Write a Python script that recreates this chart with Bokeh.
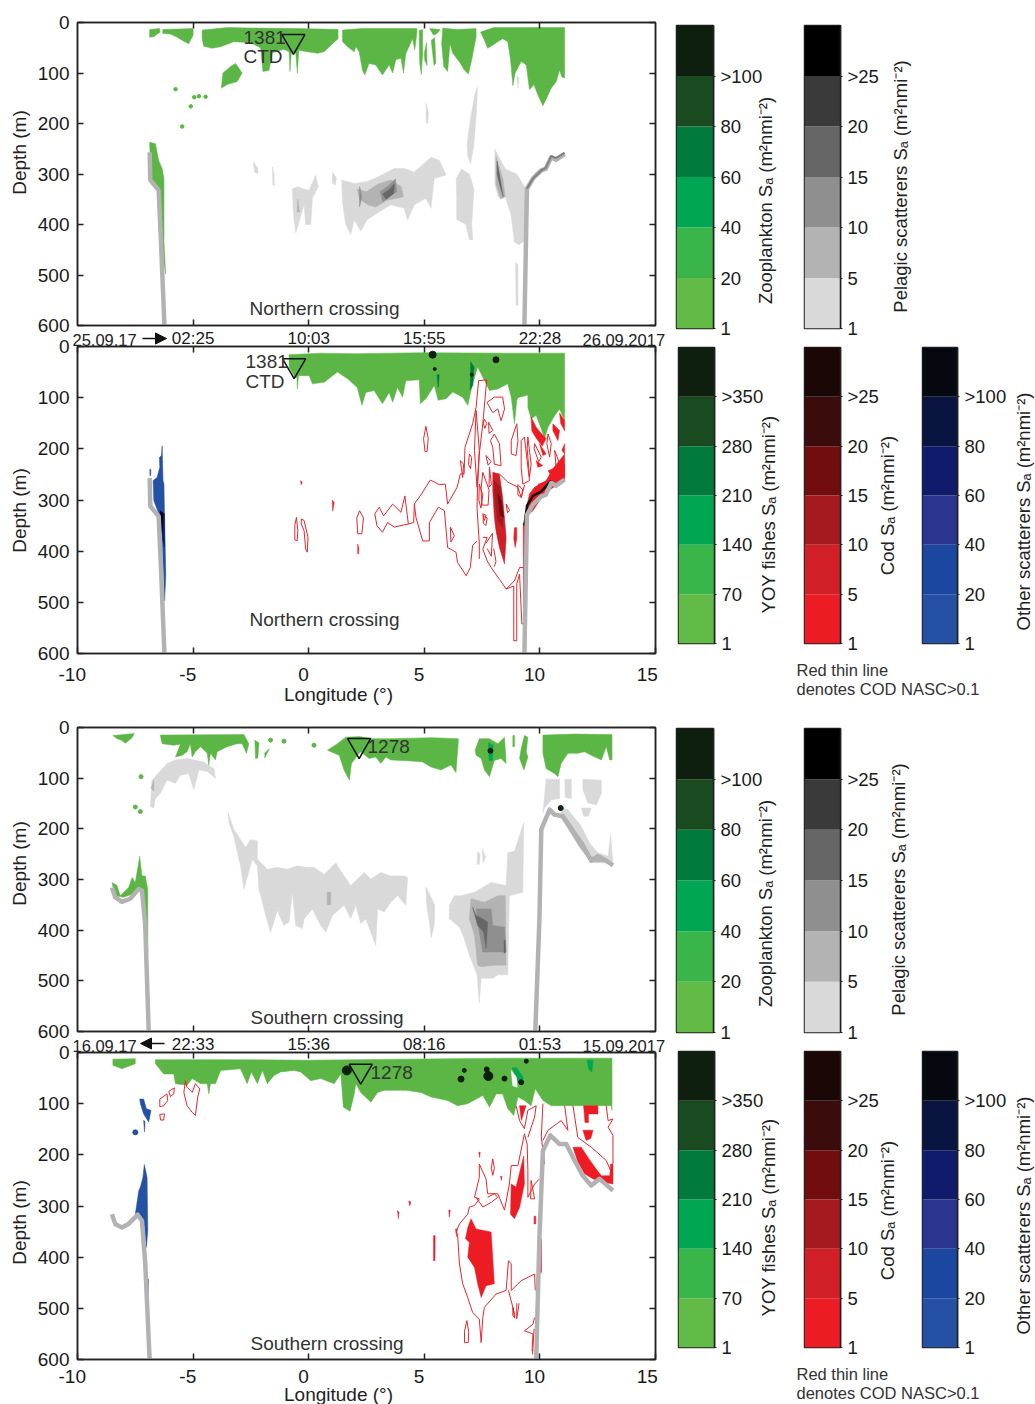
from math import pi
from bokeh.embed import file_html
from bokeh.layouts import column, row
from bokeh.models import Arrow, FixedTicker, Label, LinearAxis, NormalHead, Range1d
from bokeh.plotting import figure
from bokeh.resources import INLINE

FONT = "Liberation Sans"
GREENS = ["#62bb46", "#39b54a", "#00a651", "#007a3d", "#1a4a20", "#0e1f10"]
GRAYS = ["#d9d9d9", "#b3b3b3", "#8f8f8f", "#666666", "#3a3a3a", "#000000"]
REDS = ["#ed1c24", "#d01f27", "#a41a20", "#720d0e", "#3a0d0c", "#1c0707"]
BLUES = ["#2451a4", "#1c47a1", "#2a3590", "#101b6b", "#0a1440", "#05080f"]
ZOO_TICKS = ["1", "20", "40", "60", "80", ">100"]
PEL_TICKS = ["1", "5", "10", "15", "20", ">25"]
YOY_TICKS = ["1", "70", "140", "210", "280", ">350"]
COD_TICKS = ["1", "5", "10", "15", "20", ">25"]
OTH_TICKS = ["1", "20", "40", "60", "80", ">100"]
UNIT = " S\u2090 (m\u00b2nmi\u207b\u00b2)"
DEPTH_TICKS = [0, 100, 200, 300, 400, 500, 600]
LON_TICKS = [-10, -5, 0, 5, 10, 15]
N_TIMES = {-5: "02:25", 0: "10:03", 5: "15:55", 10: "22:28"}
S_TIMES = {-5: "22:33", 0: "15:36", 5: "08:16", 10: "01:53"}

# ---- Northern crossing: seabed
N_BATHY = [[(-6.88, 257), (-6.85, 312), (-6.49, 332), (-6.39, 433), (-6.24, 600)],
           [(9.33, 600), (9.44, 329), (9.7, 309), (9.85, 302), (10.06, 293), (10.25, 290), (10.49, 267), (10.7, 272), (11.07, 260)]]
# ---- panel 1 zooplankton
P1_ZOO = [
    [(-6.88, 29), (-6.7, 28), (-6.55, 23), (-6.44, 20), (-6.44, 12), (-6.88, 14)],
    [(-6.31, 22), (-5.98, 23), (-5.69, 29), (-5.37, 38), (-5.19, 42), (-5.0, 25), (-5.0, 12), (-6.31, 14)],
    [(-4.61, 32), (-4.54, 47), (-4.18, 51), (-3.81, 48), (-3.24, 38), (-2.51, 40), (-2.08, 50), (-1.98, 97), (-1.72, 95), (-1.57, 60),
     (-1.07, 53), (-.85, 58), (-.81, 97), (-.75, 58), (-.56, 60), (-.49, 100), (-.43, 55), (-.06, 58), (.38, 61), (.67, 58), (1.03, 42), (1.27, 32),
     (1.27, 14), (.6, 13), (-.5, 12), (-2.5, 11), (-3.5, 10), (-4.61, 15)],
    [(-3.78, 130), (-3.71, 100), (-3.38, 87), (-3.16, 81), (-2.88, 100), (-3.09, 117), (-3.53, 123)],
    [(1.46, 38), (1.68, 48), (1.97, 58), (2.04, 48), (2.18, 58), (2.33, 95), (2.43, 104), (2.61, 81), (2.9, 84), (3.19, 104), (3.48, 84), (3.63, 100),
     (3.77, 74), (3.99, 71), (4.1, 100), (4.2, 62), (4.49, 32), (4.59, 54), (4.68, 20), (4.68, 12), (3.5, 12), (2.3, 12), (1.46, 15)],
    [(4.78, 16), (4.93, 14), (4.93, 60), (4.87, 103), (4.8, 80)],
    [(5.0, 60), (5.1, 40), (5.12, 85), (5.02, 75)],
    [(5.23, 12), (5.69, 14), (5.55, 22), (5.4, 25)],
    [(5.3, 35), (5.45, 30), (5.5, 80), (5.42, 85)],
    [(5.75, 42), (5.84, 87), (6.01, 97), (6.11, 42), (6.23, 61), (6.52, 78), (6.73, 94), (6.91, 102), (7.05, 74), (7.24, 29), (7.24, 12), (6.4, 14), (5.8, 11)],
    [(7.43, 19), (7.6, 35), (7.74, 51), (7.96, 45), (8.18, 38), (8.39, 32), (8.61, 38), (8.73, 74), (8.83, 125), (8.93, 100), (9.19, 77), (9.41, 84),
     (9.55, 133), (9.74, 123), (9.91, 143), (10.13, 165), (10.27, 152), (10.49, 130), (10.71, 117), (10.85, 94), (10.95, 108), (11.07, 110), (11.07, 10), (8.0, 10)],
    [(-6.88, 237), (-6.63, 240), (-6.49, 273), (-6.34, 289), (-6.26, 309), (-6.26, 433), (-6.19, 498), (-6.27, 472), (-6.42, 342), (-6.56, 322), (-6.82, 309)],
]
P1_DOT_LON = [-5.76, -4.75, -4.46, -5.1, -5.47, -4.95]
P1_DOT_DEPTH = [132, 146, 147, 166, 206, 148]
P1_GRAY1 = [
    [(-.71, 329), (-.46, 325), (-.27, 329), (.02, 332), (.3, 302), (.41, 325), (.16, 348), (.09, 400), (-.13, 400), (-.2, 361), (-.35, 384), (-.56, 417), (-.66, 381)],
    [(1.43, 312), (1.97, 319), (2.54, 315), (2.98, 306), (3.7, 289), (4.13, 289), (4.57, 296), (5.29, 267), (5.65, 273), (5.94, 302), (5.43, 309), (5.29, 368),
     (5.07, 348), (4.57, 361), (4.28, 391), (4.13, 368), (3.55, 361), (2.98, 377), (2.54, 390), (2.25, 413), (1.97, 391), (1.82, 420), (1.6, 400), (1.46, 355)],
    [(-2.4, 276), (-2.2, 289), (-2.2, 300), (-2.34, 296)],
    [(-1.57, 286), (-1.5, 300), (-1.48, 322), (-1.55, 322)],
    [(1.03, 296), (1.2, 308), (1.15, 322), (1.03, 318)],
    [(5.08, 160), (5.18, 180), (5.15, 200), (5.08, 198)],
    [(7.3, 127), (7.26, 175), (7.15, 240), (7.0, 280), (6.88, 265), (6.85, 240), (7.0, 190), (7.2, 140)],
    [(6.38, 310), (6.6, 290), (6.95, 300), (7.15, 330), (7.05, 400), (7.1, 430), (6.95, 430), (6.8, 400), (6.4, 390), (6.4, 345)],
    [(8.05, 251), (8.5, 290), (9.0, 300), (9.4, 330), (9.4, 430), (9.1, 440), (8.9, 435), (8.75, 380), (8.5, 345), (8.2, 345), (8.05, 320)],
    [(8.95, 475), (9.05, 480), (9.05, 560), (8.97, 560)],
    [(9.0, 105), (9.1, 110), (9.05, 130)],
]
P1_GRAY2 = [
    [(2.1, 330), (2.5, 335), (3.0, 320), (3.55, 312), (4.0, 325), (4.1, 345), (3.4, 352), (2.9, 365), (2.6, 362), (2.2, 350)],
    [(8.1, 265), (8.4, 310), (8.5, 345), (8.3, 350), (8.1, 320)],
    [(-.47, 350), (-.4, 375), (-.5, 375)],
]
P1_GRAY3 = [[(3.1, 335), (3.4, 325), (3.75, 310), (3.8, 335), (3.5, 345), (3.2, 355)], [(2.2, 325), (2.3, 345), (2.2, 365)]]
P1_GRAY4 = [[(3.2, 340), (3.5, 330), (3.7, 320), (3.68, 338), (3.35, 350)], [(8.15, 275), (8.3, 315), (8.42, 345), (8.28, 325), (8.15, 300)]]
N_SHELF_DARK = [(9.44, 329), (9.7, 309), (10.06, 293), (10.25, 288), (10.49, 265), (10.7, 268), (11.07, 258)]

# ---- panel 2 YOY fishes and cod
P2_YOY = [[(-.85, 40), (-.6, 60), (-.51, 60), (-.49, 83), (-.44, 57), (.02, 57), (.16, 73), (.67, 70), (.95, 60), (1.24, 50), (1.68, 63), (2.1, 80),
           (2.3, 115), (2.47, 90), (2.83, 86), (3.19, 112), (3.48, 90), (3.63, 109), (3.84, 80), (4.06, 99), (4.2, 67), (4.78, 65), (4.83, 112),
           (5.07, 102), (5.43, 76), (5.6, 105), (5.94, 102), (6.23, 89), (6.66, 99), (6.88, 115), (7.09, 73), (7.31, 40), (7.53, 60), (7.82, 86),
           (8.18, 83), (8.61, 73), (8.76, 99), (8.9, 151), (9.0, 105), (9.05, 100), (9.48, 95), (9.48, 119), (9.62, 141), (9.84, 135), (10.06, 161),
           (10.2, 181), (10.35, 158), (10.64, 135), (10.85, 122), (11.07, 145), (11.07, 13), (8.5, 13), (5, 12), (2, 14), (.5, 13), (-.85, 16)]]
P2_YOY2 = [[(7.0, 30), (7.15, 40), (7.1, 75), (6.98, 85), (7.0, 55)], [(5.55, 55), (5.65, 55), (5.6, 80)]]
P2_SPOT_LON = [5.36, 8.1, 7.05, 5.45]
P2_SPOT_DEPTH = [16, 26, 55, 44]
P2_SPOT_SIZE = [7, 6, 3, 3]
P2_BLUE = [[(-6.34, 194), (-6.3, 262), (-6.26, 269), (-6.24, 321), (-6.18, 445), (-6.23, 497), (-6.34, 379), (-6.42, 334), (-6.56, 318), (-6.7, 301),
            (-6.73, 262), (-6.56, 256), (-6.44, 236), (-6.46, 217), (-6.37, 213)], [(-6.87, 240), (-6.83, 240), (-6.83, 252), (-6.87, 252)]]
P2_BLUE2 = [[(-6.42, 321), (-6.24, 327), (-6.24, 392), (-6.3, 379)]]
P2_BLUE3 = [[(-6.42, 321), (-6.34, 363), (-6.3, 327)]]
P2_COD_LINES = [
    [(2.86, 327), (3.05, 314), (3.24, 331), (3.63, 308), (3.99, 324), (4.16, 292), (4.31, 347), (4.54, 344), (4.57, 308), (4.88, 288), (5.26, 261), (5.65, 270),
     (5.91, 269), (6.01, 308), (6.42, 275), (6.56, 249), (6.72, 249), (6.76, 197), (7.09, 151), (7.24, 119), (7.35, 67), (7.7, 65), (7.53, 151), (7.38, 210),
     (7.31, 269), (7.28, 314), (7.38, 386), (7.38, 415)],
    [(2.86, 327), (2.95, 350), (3.19, 363), (3.41, 344), (3.7, 353), (3.99, 350), (4.31, 347)],
    [(4.57, 308), (4.64, 334), (4.93, 380), (5.22, 380), (5.22, 344), (5.61, 314), (5.87, 321), (6.01, 393), (6.37, 402), (6.44, 422), (6.81, 448), (6.99, 432), (7.09, 389), (7.28, 380)],
    [(7.53, 373), (7.72, 373), (7.53, 396), (7.72, 419), (7.89, 432), (8.25, 455), (8.54, 474), (8.9, 458), (9.12, 432), (9.31, 432), (9.31, 542), (9.22, 542),
     (9.12, 445), (9.0, 464), (9.0, 575), (8.87, 575), (8.87, 468), (8.54, 474)],
    [(5.07, 156), (5.17, 180), (5.12, 205), (5.03, 205), (4.97, 180), (5.07, 156)],
    [(2.2, 321), (2.37, 335), (2.3, 366), (2.12, 366), (2.08, 335), (2.2, 321)],
    [(7.72, 109), (8.03, 99), (8.39, 99), (8.47, 122), (8.32, 145), (8.18, 122), (7.96, 129), (7.74, 112), (7.72, 109)],
    [(7.6, 142), (7.7, 150), (7.62, 160), (7.55, 150), (7.6, 142)],
    [(7.78, 148), (7.96, 164), (7.8, 170), (7.78, 148)],
    [(8.03, 171), (8.25, 190), (8.32, 233), (8.03, 230), (7.96, 197), (7.86, 184), (8.03, 171)],
    [(7.67, 213), (7.89, 225), (7.76, 232), (7.67, 213)],
    [(7.53, 246), (7.8, 280), (7.76, 310), (7.5, 310), (7.45, 280), (7.53, 246)],
    [(8.25, 249), (8.61, 265), (9.05, 275), (9.19, 295), (9.34, 270)],
    [(8.76, 184), (9.0, 151), (9.05, 184), (8.97, 213), (8.76, 210), (8.76, 184)],
    [(9.33, 177), (9.55, 262), (9.26, 269), (9.19, 236), (9.19, 184), (9.33, 177)],
    [(6.56, 223), (6.7, 230), (6.66, 256), (6.56, 223)],
    [(-.53, 334), (-.47, 360), (-.5, 380), (-.6, 378), (-.6, 350), (-.53, 334)],
    [(-.32, 337), (-.2, 340), (-.03, 373), (-.06, 402), (-.13, 396), (-.2, 360), (-.32, 347), (-.32, 337)],
    [(7.55, 330), (7.72, 335), (7.66, 350), (7.55, 345), (7.55, 330)],
    [(7.66, 385), (7.95, 365), (7.9, 410), (7.72, 395)],
    [(8.0, 395), (8.1, 420), (8.03, 430)],
    [(7.24, 125), (7.38, 203), (7.28, 275), (7.17, 203), (7.24, 125)],
    [(6.95, 210), (7.05, 217), (7.0, 239), (6.91, 230), (6.95, 210)],
    [(7.38, 269), (7.53, 290), (7.45, 316), (7.36, 300), (7.38, 269)],
    [(7.53, 327), (7.67, 330), (7.6, 340), (7.53, 327)],
    [(7.82, 236), (7.9, 270), (7.8, 275), (7.82, 236)],
    [(8.54, 308), (8.69, 320), (8.6, 325), (8.54, 308)],
    [(9.05, 270), (9.26, 280), (9.2, 295), (9.05, 290), (9.05, 270)],
    [(9.48, 177), (9.62, 230), (9.55, 255), (9.45, 200), (9.48, 177)],
    [(9.77, 190), (10.06, 216), (9.95, 225), (9.75, 200), (9.77, 190)],
    [(10.35, 171), (10.49, 190), (10.42, 216), (10.3, 190), (10.35, 171)],
    [(10.64, 203), (10.85, 229), (10.7, 235), (10.64, 203)],
    [(6.13, 353), (6.3, 370), (6.15, 382), (6.13, 353)],
]
P2_COD1 = [
    [(9.33, 334), (9.55, 288), (9.77, 275), (10.27, 262), (10.56, 239), (11.07, 210), (11.07, 262), (10.49, 278), (10.13, 291), (9.7, 321), (9.43, 331)],
    [(9.98, 190), (10.27, 210), (10.13, 213)],
    [(10.56, 151), (10.85, 164), (10.78, 184), (10.56, 164)],
    [(9.84, 223), (10.13, 233), (9.91, 236)],
    [(11.07, 190), (10.95, 203), (11.07, 210)],
    [(9.62, 138), (9.84, 158), (10.06, 170), (10.27, 180), (10.1, 195), (9.85, 180), (9.65, 165)],
    [(10.85, 130), (11.07, 145), (11.07, 165), (10.9, 150)],
    [(8.9, 354), (9.0, 354), (9.0, 375), (8.93, 393), (8.87, 375)],
    [(2.12, 386), (2.17, 395), (2.16, 405), (2.12, 405)],
    [(-.35, 262), (-.28, 266), (-.33, 270)],
    [(1.02, 300), (1.1, 305), (1.04, 322)],
    [(9.28, 345), (9.4, 345), (9.36, 545), (9.3, 545)],
    [(10.35, 243), (10.56, 239), (10.85, 246), (10.63, 262)],
    [(10.92, 223), (11.07, 230), (11.07, 255), (10.85, 249)],
    [(9.91, 269), (10.27, 265), (10.2, 282)],
]
P2_COD2 = [[(7.96, 246), (8.25, 249), (8.39, 295), (8.54, 373), (8.47, 425), (8.25, 393), (8.1, 360), (8.03, 334), (7.96, 282)]]
P2_COD3 = [[(8.03, 262), (8.29, 275), (8.39, 327), (8.39, 353), (8.18, 340), (8.06, 301)]]
P2_COD4 = [[(8.18, 288), (8.32, 301), (8.44, 334), (8.29, 331)]]
P2_SHELF_BLACK = [(9.33, 350), (9.45, 310), (9.7, 292), (10.06, 283), (10.49, 262)]

# ---- Southern crossing: seabed
S3_BATHY = [[(-8.51, 316), (-8.37, 335), (-8.08, 344), (-7.72, 338), (-7.36, 319), (-7.21, 322), (-7.07, 390), (-6.92, 601)],
            [(9.8, 601), (9.98, 377), (10.06, 201), (10.42, 162), (10.63, 172), (10.99, 175), (11.36, 201), (11.79, 227), (12.22, 263), (12.51, 254), (12.87, 263), (13.16, 272)]]
S4_BATHY = [[(-8.51, 316), (-8.37, 335), (-8.08, 342), (-7.79, 335), (-7.4, 317), (-7.21, 329), (-7.07, 413), (-6.88, 600)],
            [(9.84, 599), (9.98, 361), (10.13, 192), (10.45, 162), (10.85, 179), (11.14, 179), (11.5, 211), (11.86, 241), (12.22, 260), (12.58, 247), (13.16, 270)]]
# ---- panel 3 zooplankton
P3_ZOO = [
    [(-8.47, 16), (-7.54, 12), (-7.64, 20), (-7.93, 31), (-8.1, 25), (-8.29, 22)],
    [(-6.34, 32), (-5.84, 35), (-5.55, 33), (-5.76, 58), (-5.48, 55), (-5.26, 48), (-5.12, 32), (-5.04, 58), (-4.9, 48), (-4.68, 38), (-4.39, 51), (-4.32, 74),
     (-4.25, 51), (-4.03, 64), (-3.96, 48), (-3.53, 38), (-3.09, 32), (-2.88, 32), (-2.69, 51), (-2.59, 32), (-2.8, 14), (-6.42, 15)],
    [(-2.33, 25), (-2.15, 30), (-2.2, 60), (-2.3, 61)],
    [(-1.9, 50), (-1.7, 42), (-1.9, 60)],
    [(.81, 45), (1.24, 32), (1.6, 19), (2.2, 18), (2.7, 22), (3.5, 22), (4.5, 21), (5.3, 20), (6.47, 22), (6.47, 30), (6.37, 89), (6.15, 74), (5.72, 84), (5.29, 78),
     (4.93, 68), (4.42, 66), (3.99, 65), (3.55, 64), (3.34, 58), (3.12, 71), (2.9, 58), (2.61, 61), (2.25, 48), (2.11, 55), (1.85, 71), (1.76, 104), (1.53, 84), (1.32, 55)],
    [(7.2, 45), (7.38, 22), (7.82, 22), (8.18, 32), (8.47, 19), (8.54, 71), (8.32, 61), (8.03, 65), (7.82, 97), (7.6, 84), (7.46, 61), (7.24, 55)],
    [(8.83, 16), (8.9, 16), (8.9, 38), (8.83, 38)],
    [(9.33, 16), (9.48, 19), (9.41, 48), (9.48, 58), (9.31, 84), (9.12, 61), (9.19, 42)],
    [(10.13, 51), (10.27, 81), (10.63, 91), (10.78, 97), (10.92, 71), (11.21, 51), (11.65, 51), (11.93, 48), (12.22, 55), (12.66, 64), (12.87, 38), (13.02, 64), (13.12, 64), (13.12, 14), (11.5, 13), (10.13, 15)],
    [(-8.51, 306), (-8.29, 312), (-8.15, 332), (-7.79, 316), (-7.64, 296), (-7.5, 306), (-7.31, 254), (-7.21, 293), (-7.07, 293), (-6.96, 319), (-6.96, 443), (-7.07, 378),
     (-7.21, 319), (-7.64, 329), (-8.0, 335), (-8.37, 332)],
]
P3_DOT_LON = [-7.25, -7.5, -7.28, -1.07, -1.65, .23]
P3_DOT_DEPTH = [97, 157, 166, 27, 25, 35]
P3_ZOO2 = [[(7.78, 30), (7.98, 35), (7.95, 65), (7.8, 65)]]
P3_BLACK_LON = [7.86, 10.9]
P3_BLACK_DEPTH = [46, 159]
P3_GRAY1 = [
    [(-6.85, 156), (-6.78, 104), (-6.13, 71), (-5.76, 64), (-5.26, 61), (-4.54, 68), (-4.1, 81), (-4.03, 100), (-4.39, 87), (-4.75, 84), (-4.97, 123), (-5.19, 91),
     (-5.55, 94), (-5.76, 110), (-6.13, 104), (-6.41, 130), (-6.63, 140), (-6.7, 159)],
    [(-3.48, 169), (-3.24, 201), (-2.73, 237), (-2.51, 221), (-2.22, 224), (-2.22, 260), (-1.79, 280), (-1.36, 276), (-.92, 280), (-.49, 273), (-.13, 276), (.23, 276),
     (.67, 290), (1.17, 267), (1.53, 293), (1.82, 312), (2.11, 299), (2.4, 286), (2.69, 299), (3.12, 286), (3.55, 293), (4.13, 293), (4.28, 296), (4.2, 351), (3.84, 332),
     (3.55, 345), (3.27, 364), (2.98, 358), (2.9, 430), (2.69, 404), (2.47, 378), (2.25, 387), (2.04, 351), (1.82, 377), (1.53, 351), (1.03, 371), (.74, 404), (.52, 391),
     (.16, 358), (-.2, 378), (-.27, 397), (-.56, 391), (-.71, 325), (-.85, 384), (-1.07, 391), (-1.36, 361), (-1.65, 404), (-1.86, 371), (-2.15, 319), (-2.22, 273),
     (-2.44, 260), (-2.8, 319), (-2.95, 273), (-3.24, 215), (-3.45, 188)],
    [(5.07, 315), (5.45, 350), (5.43, 390), (5.3, 415), (5.22, 385), (5.1, 350)],
    [(6.08, 351), (6.3, 332), (6.59, 332), (7.17, 325), (7.89, 306), (8.54, 312), (8.61, 247), (8.9, 244), (9.3, 188), (9.26, 325), (8.68, 332), (8.61, 488), (8.18, 488),
     (7.96, 495), (7.46, 495), (7.38, 544), (7.28, 488), (6.95, 449), (6.73, 417), (6.52, 394), (6.08, 377)],
    [(7.3, 245), (7.42, 250), (7.38, 270), (7.28, 270)],
    [(7.5, 240), (7.65, 255), (7.55, 268)],
    [(10.27, 102), (10.85, 102), (10.85, 140), (10.49, 143), (10.2, 159), (10.13, 169)],
    [(11.07, 102), (11.36, 102), (11.36, 140), (11.1, 138)],
    [(11.86, 102), (12.66, 104), (12.66, 130), (12.44, 153), (12.08, 149), (11.86, 123)],
    [(10.92, 159), (11.21, 162), (11.79, 195), (12.15, 228), (12.51, 247), (12.95, 254), (13.06, 211), (13.16, 273), (12.8, 267), (12.22, 267), (11.79, 237), (11.36, 205), (10.92, 179)],
    [(11.79, 159), (12.22, 159), (12.1, 175), (11.9, 175)],
]
P3_GRAY2 = [
    [(7.02, 338), (7.6, 345), (8.18, 332), (8.5, 332), (8.54, 469), (8.03, 469), (7.46, 472), (7.31, 469), (7.17, 410), (6.95, 377)],
    [(-6.7, 104), (-6.82, 120), (-6.7, 125)],
    [(.8, 325), (.95, 325), (.95, 350), (.8, 350)],
    [(11.0, 170), (11.36, 192), (11.79, 222), (12.2, 255), (12.8, 258), (12.8, 265), (12.2, 265), (11.7, 235), (11.0, 183)],
]
P3_GRAY3 = [[(7.24, 358), (7.89, 358), (7.96, 391), (8.47, 394), (8.54, 443), (7.89, 443), (7.53, 443), (7.38, 404)]]
P3_GRAY4 = [[(7.09, 355), (7.24, 371), (7.53, 378), (7.74, 384), (7.67, 436), (7.57, 404), (7.31, 391)], [(8.45, 420), (8.5, 420), (8.5, 445), (8.45, 445)]]

# ---- panel 4 YOY fishes and cod
P4_YOY = [
    [(-8.47, 25), (-8.08, 32), (-7.5, 22), (-7.5, 12), (-8.47, 13)],
    [(-6.63, 22), (-6.27, 42), (-5.84, 42), (-5.76, 61), (-5.26, 64), (-5.04, 51), (-4.68, 61), (-4.39, 61), (-4.32, 81), (-4.25, 61), (-4.03, 61), (-3.81, 35), (-2.95, 32),
     (-2.66, 61), (-2.48, 38), (-2.22, 61), (-2.0, 35), (-1.79, 61), (-1.5, 45), (-1.21, 38), (-.63, 35), (-.35, 38), (.09, 55), (.52, 51), (1.1, 61), (1.39, 42), (1.5, 107),
     (1.79, 115), (1.97, 81), (2.04, 61), (2.25, 78), (2.69, 97), (2.98, 78), (3.27, 74), (3.7, 74), (4.2, 74), (4.85, 78), (5.29, 87), (6.01, 94), (6.44, 104), (6.88, 100),
     (7.53, 84), (7.82, 107), (8.11, 81), (8.39, 81), (8.61, 110), (8.87, 123), (9.05, 87), (9.33, 94), (9.62, 104), (9.8, 71), (10.13, 94), (10.49, 104), (13.09, 104), (13.12, 113),
     (13.12, 11), (8.5, 11), (4, 13), (0, 15), (-3, 14), (-6.63, 14)],
]
P4_YOY2 = [[(12.05, 15), (12.3, 15), (12.25, 38), (12.1, 32)], [(8.8, 30), (9.0, 30), (9.3, 50), (9.1, 60)]]
P4_WHITE = [[(8.76, 35), (8.98, 48), (9.02, 68), (8.83, 65)]]
P4_SPOT_LON = [1.65, 6.59, 6.73, 7.77, 7.7, 8.47, 9.19, 9.41]
P4_SPOT_DEPTH = [35, 52, 35, 46, 33, 51, 58, 17]
P4_SPOT_SIZE = [9, 6, 4, 9, 5, 5, 5, 4]
P4_BLUE = [
    [(-7.31, 91), (-7.14, 91), (-7.02, 110), (-6.82, 113), (-6.92, 136), (-7.14, 120), (-7.28, 100)],
    [(-7.14, 133), (-7.08, 135), (-7.1, 155)],
    [(-7.11, 219), (-6.99, 244), (-6.96, 348), (-7.02, 381), (-7.14, 329), (-7.5, 316), (-7.35, 270), (-7.28, 263), (-7.17, 244)],
    [(-6.97, 443), (-6.93, 443), (-6.95, 472)],
]
P4_BLUE_DOT_LON = [-7.5]
P4_BLUE_DOT_DEPTH = [156]
P4_COD1 = [
    [(7.02, 325), (7.24, 345), (7.89, 351), (7.96, 400), (8.03, 452), (7.67, 456), (7.46, 479), (7.31, 452), (7.17, 420), (6.88, 400), (6.95, 371), (6.78, 364), (6.88, 342)],
    [(9.3, 202), (9.33, 257), (9.12, 303), (8.9, 325), (8.73, 316), (8.76, 257), (8.97, 263)],
    [(11.43, 185), (11.79, 185), (12.08, 205), (12.37, 224), (12.66, 241), (13.02, 241), (13.06, 218), (13.16, 218), (13.16, 257), (12.8, 254), (12.3, 247), (11.93, 237), (11.64, 214)],
    [(11.89, 104), (12.51, 104), (12.51, 120), (12.1, 120), (12.1, 137), (11.95, 137)],
    [(11.86, 152), (12.3, 152), (12.2, 168), (12.0, 172)],
    [(9.12, 104), (9.4, 104), (9.2, 133)],
    [(3.84, 309), (3.9, 312), (3.88, 325)],
    [(4.33, 290), (4.42, 292), (4.37, 300)],
    [(6.06, 308), (6.12, 308), (6.08, 322)],
    [(5.4, 358), (5.47, 358), (5.46, 407), (5.4, 407)],
    [(6.35, 345), (6.42, 345), (6.4, 360)],
    [(7.36, 195), (7.42, 195), (7.39, 205)],
    [(9.75, 320), (9.82, 320), (9.82, 335), (9.75, 335)],
    [(8.3, 242), (8.36, 242), (8.33, 250)],
    [(9.95, 365), (10.07, 365), (10.07, 430), (10.0, 430)],
]
P4_COD_LINES = [
    [(6.37, 351), (6.52, 335), (6.88, 316), (6.95, 302), (7.17, 299), (7.38, 286), (7.17, 283), (7.38, 244), (7.38, 218), (7.67, 247), (7.74, 276), (8.18, 276), (8.47, 308),
     (8.68, 257), (8.76, 221), (9.05, 221), (9.33, 159), (9.45, 179), (9.48, 231), (9.48, 283), (9.77, 257), (9.98, 247)],
    [(6.37, 351), (6.44, 355), (6.52, 413), (6.66, 452), (6.88, 479), (7.09, 508), (7.38, 521), (7.46, 567), (7.53, 518), (7.6, 498), (8.11, 472), (8.54, 465), (8.64, 407),
     (8.76, 413), (8.76, 465), (9.19, 446), (9.77, 433), (9.8, 465)],
    [(6.84, 524), (6.92, 545), (6.9, 567), (6.74, 567), (6.74, 545), (6.84, 524)],
    [(9.77, 518), (9.7, 531), (9.33, 544), (9.7, 550), (9.66, 584)],
    [(10.13, 100), (10.06, 165), (10.2, 218)],
    [(11.07, 104), (11.21, 152), (10.92, 133), (10.35, 152), (10.13, 172)],
    [(11.43, 104), (11.64, 166), (12.22, 185), (12.87, 211), (13.09, 234)],
    [(12.87, 104), (12.95, 133), (13.16, 130), (12.95, 146), (13.16, 162), (13.16, 218)],
    [(8.97, 104), (9.12, 133), (9.33, 149), (9.48, 113), (9.84, 104), (9.77, 126), (9.48, 166)],
    [(9.62, 250), (9.77, 286), (9.6, 286), (9.62, 250)],
    [(7.96, 208), (8.03, 226), (7.96, 240), (7.9, 226), (7.96, 208)],
    [(-6.44, 91), (-6.13, 81), (-6.1, 94), (-6.27, 104), (-6.44, 106), (-6.44, 91)],
    [(-6.05, 76), (-5.81, 69), (-5.84, 81), (-5.98, 86), (-6.05, 76)],
    [(-6.44, 121), (-6.24, 120), (-6.27, 132), (-6.41, 132), (-6.44, 121)],
    [(-5.33, 55), (-5.26, 68), (-5.04, 78), (-4.9, 61), (-4.71, 71), (-4.8, 87), (-4.9, 123), (-5.04, 117), (-5.26, 104), (-5.4, 78), (-5.33, 55)],
    [(8.64, 465), (8.9, 510), (8.92, 520)],
    [(9.75, 540), (9.68, 590)],
    [(9.0, 490), (9.0, 520), (9.1, 490)],
    [(7.24, 283), (7.53, 302), (7.89, 293), (8.18, 283), (8.03, 276), (7.74, 283)],
    [(8.83, 498), (8.9, 518), (8.83, 514), (8.83, 498)],
]

# A transparent full-page figure on top of the panels carries every free text,
# because a Label is clipped to the frame of the figure that owns it.
PAGE_W, PAGE_H = 1027, 1396
TEXT_LAYER = figure(width=PAGE_W, height=PAGE_H, output_backend="svg", toolbar_location=None,
                    x_range=Range1d(0, PAGE_W), y_range=Range1d(0, PAGE_H), x_axis_type=None, y_axis_type=None,
                    min_border=0, border_fill_color=None, background_fill_color=None, outline_line_color=None,
                    margin=(-PAGE_H, 0, 0, 0))
TEXT_LAYER.grid.visible = False


def fill(p, polys, color):
    p.patches([[q[0] for q in r] for r in polys], [[q[1] for q in r] for r in polys],
              fill_color=color, line_color=color, line_width=0.5)


def lines(p, polys, color, width):
    p.multi_line([[q[0] for q in r] for r in polys], [[q[1] for q in r] for r in polys],
                 line_color=color, line_width=width, line_join="round")


def text(s, px, py, size="19px", color="#333333", angle=0, align="left"):
    # px, py: position in the browser window
    TEXT_LAYER.add_layout(Label(x=px - 8, y=PAGE_H + 8 - py, x_units="screen", y_units="screen", text=s, text_font=FONT,
                                text_font_size=size, text_color=color, angle=angle, text_align=align, text_baseline="middle"))


def arrow(px0, px1, py):
    TEXT_LAYER.add_layout(Arrow(end=NormalHead(size=11, fill_color="#111111", line_color="#111111"),
                                x_start=px0 - 8, x_end=px1 - 8, y_start=PAGE_H + 8 - py, y_end=PAGE_H + 8 - py,
                                line_color="#111111", line_width=1.5))


def panel(row_top, row_h, top, bottom, labels, standoff):
    p = figure(width=660, height=row_h, output_backend="svg", toolbar_location=None,
               x_range=Range1d(-10, 15), y_range=Range1d(600, 0), x_axis_type=None, y_axis_type=None,
               min_border_left=69, min_border_right=13, min_border_top=top - row_top,
               min_border_bottom=row_top + row_h - bottom, border_fill_color=None,
               outline_line_color="#222222", outline_line_width=1.5)
    p.grid.visible = False
    ticks = sorted(labels)
    for side, tk, over in (("below", ticks, labels), ("above", ticks, {t: "" for t in ticks}),
                           ("left", DEPTH_TICKS, None), ("right", DEPTH_TICKS, {t: "" for t in DEPTH_TICKS})):
        ax = LinearAxis(ticker=FixedTicker(ticks=tk), major_tick_in=6, major_tick_out=0, minor_tick_line_color=None,
                        axis_line_color="#222222", axis_line_width=1.5, major_tick_line_color="#222222", major_tick_line_width=1.5,
                        major_label_text_font=FONT, major_label_text_color="#1a1a1a",
                        major_label_text_font_size="19px", major_label_standoff=8)
        if over is not None:
            ax.major_label_overrides = over
        if side == "below":
            ax.major_label_standoff = standoff
            if len(tk) == 4:
                ax.major_label_text_font_size = "17px"
        if side in ("above", "right"):
            ax.major_label_standoff = 0
            ax.major_label_text_font_size = "1px"
        p.add_layout(ax, side)
    return p


def colorbar(colors, ticks, title, fig_left, fig_w, fx0, fx1, row_top, row_h, fy0, fy1, tx, ty):
    p = figure(width=fig_w, height=row_h, output_backend="svg", toolbar_location=None,
               x_range=Range1d(0, 1), y_range=Range1d(0, 6), x_axis_type=None, y_axis_type=None,
               min_border_left=fx0 - fig_left, min_border_right=fig_left + fig_w - fx1, min_border_top=fy0 - row_top,
               min_border_bottom=row_top + row_h - fy1, border_fill_color=None,
               outline_line_color="#222222", outline_line_width=1.5)
    p.grid.visible = False
    p.quad(left=0, right=1, bottom=list(range(6)), top=list(range(1, 7)), fill_color=colors, line_color=None)
    ax = LinearAxis(ticker=FixedTicker(ticks=list(range(6))), major_label_overrides=dict(enumerate(ticks)),
                    major_tick_in=0, major_tick_out=2, minor_tick_line_color=None, axis_line_color="#222222",
                    axis_line_width=1.5, major_tick_line_color="#222222", major_label_standoff=5,
                    major_label_text_font=FONT, major_label_text_color="#1a1a1a", major_label_text_font_size="18.5px")
    p.add_layout(ax, "right")
    text(title, tx, ty, size="18.5px", angle=pi / 2, align="center", color="#222222")
    return p


def decorate(p, crossing, cx, cy, depth_y, tri_lon, tri_depth):
    text(crossing, cx, cy)
    text("Depth (m)", 19, depth_y, angle=pi / 2, align="center", color="#222222")
    p.scatter([tri_lon], [tri_depth], marker="inverted_triangle", size=23, fill_color=None, line_color="#111111", line_width=1.5)


LON_LABELS = {t: f"{t}\u00a0\u00a0" for t in LON_TICKS}

# ---------- panel 1
p1 = panel(8, 342, 22, 328, N_TIMES, 3)
fill(p1, P1_GRAY1, GRAYS[0]); fill(p1, P1_GRAY2, GRAYS[1]); fill(p1, P1_GRAY3, GRAYS[2]); fill(p1, P1_GRAY4, GRAYS[3])
fill(p1, P1_ZOO, "#5cb646")
p1.scatter(P1_DOT_LON, P1_DOT_DEPTH, size=3.5, color="#5cb646")
lines(p1, N_BATHY, "#b2b2b2", 4.5)
lines(p1, [N_SHELF_DARK], "#808080", 2)
decorate(p1, "Northern crossing", 249, 308, 152, -.66, 37)
text("1381", 243, 37)
text("CTD", 243, 56)
text("25.09.17", 72, 339, size="16.5px", color="#222222")
text("26.09.2017", 582, 339, size="16.5px", color="#222222")
arrow(142, 166, 338)

# ---------- panel 2
p2 = panel(336, 376, 346, 653, LON_LABELS, 10)
fill(p2, P2_YOY, "#5cb646"); fill(p2, P2_YOY2, GREENS[3])
p2.scatter(P2_SPOT_LON, P2_SPOT_DEPTH, size=P2_SPOT_SIZE, color="#0e1f10")
fill(p2, P2_BLUE, BLUES[0]); fill(p2, P2_BLUE2, BLUES[3]); fill(p2, P2_BLUE3, BLUES[5])
fill(p2, P2_COD1, REDS[0]); fill(p2, P2_COD2, REDS[1]); fill(p2, P2_COD3, REDS[2]); fill(p2, P2_COD4, REDS[3])
lines(p2, P2_COD_LINES, "#e8262c", 1)
lines(p2, [P2_SHELF_BLACK], "#111111", 2.5)
lines(p2, N_BATHY, "#b2b2b2", 4.5)
decorate(p2, "Northern crossing", 249, 619, 510, -.63, 37)
text("1381", 245, 361)
text("CTD", 245, 381)
text("Longitude (\u00b0)", 338, 694, align="center", color="#222222")

# ---------- panel 3
p3 = panel(712, 344, 727, 1034, S_TIMES, 3)
fill(p3, P3_GRAY1, GRAYS[0]); fill(p3, P3_GRAY2, GRAYS[1]); fill(p3, P3_GRAY3, GRAYS[2]); fill(p3, P3_GRAY4, GRAYS[3])
fill(p3, P3_ZOO, "#5cb646"); fill(p3, P3_ZOO2, GREENS[2])
p3.scatter(P3_DOT_LON, P3_DOT_DEPTH, size=4, color="#5cb646")
p3.scatter(P3_BLACK_LON, P3_BLACK_DEPTH, size=5, color="#0e1f10")
lines(p3, S3_BATHY, "#b2b2b2", 4.5)
decorate(p3, "Southern crossing", 250, 1017, 863, 2.18, 35)
text("1278", 367, 746)
text("16.09.17", 72, 1045, size="16.5px", color="#222222")
text("15.09.2017", 582, 1045, size="16.5px", color="#222222")
arrow(164, 140, 1043)

# ---------- panel 4
p4 = panel(1042, 362, 1052, 1359, LON_LABELS, 6)
fill(p4, P4_YOY, "#5cb646"); fill(p4, P4_YOY2, GREENS[2]); fill(p4, P4_WHITE, "#ffffff")
p4.scatter(P4_SPOT_LON, P4_SPOT_DEPTH, size=P4_SPOT_SIZE, color="#0e1f10")
fill(p4, P4_BLUE, BLUES[0])
p4.scatter(P4_BLUE_DOT_LON, P4_BLUE_DOT_DEPTH, size=5, color=BLUES[0])
fill(p4, P4_COD1, REDS[0])
lines(p4, P4_COD_LINES, "#e8262c", 1)
lines(p4, S4_BATHY, "#b2b2b2", 4.5)
decorate(p4, "Southern crossing", 250, 1343, 1222, 2.25, 36)
text("1278", 370, 1072)
text("Longitude (\u00b0)", 338, 1394, align="center", color="#222222")

# ---------- notes
NOTE = "Red thin line"
NOTE2 = "denotes COD NASC>0.1"
text(NOTE, 796, 669, size="16.5px")
text(NOTE2, 796, 688, size="16.5px")
text(NOTE, 796, 1373, size="16.5px")
text(NOTE2, 796, 1392, size="16.5px")

# ---------- colour bars
r1 = row(column(p1),
         column(colorbar(GREENS, ZOO_TICKS, "Zooplankton" + UNIT, 668, 127, 676, 713, 8, 342, 25, 328, 765, 200)),
         column(colorbar(GRAYS, PEL_TICKS, "Pelagic scatterers" + UNIT, 795, 120, 804, 840, 8, 342, 25, 328, 900, 186)))
r2 = row(column(p2),
         column(colorbar(GREENS, YOY_TICKS, "YOY fishes" + UNIT, 668, 127, 678, 714, 336, 376, 347, 643, 768, 514)),
         column(colorbar(REDS, COD_TICKS, "Cod" + UNIT, 795, 120, 804, 840, 336, 376, 347, 643, 887, 505)),
         column(colorbar(BLUES, OTH_TICKS, "Other scatterers" + UNIT, 915, 112, 922, 957, 336, 376, 347, 643, 1023, 511)),
         margin=(-14, 0, 0, 0))
r3 = row(column(p3),
         column(colorbar(GREENS, ZOO_TICKS, "Zooplankton" + UNIT, 668, 127, 676, 713, 712, 344, 728, 1032, 765, 903)),
         column(colorbar(GRAYS, PEL_TICKS, "Pelagic scatterers" + UNIT, 795, 120, 804, 840, 712, 344, 728, 1032, 898, 889)))
r4 = row(column(p4),
         column(colorbar(GREENS, YOY_TICKS, "YOY fishes" + UNIT, 668, 127, 678, 714, 1042, 362, 1051, 1347, 768, 1217)),
         column(colorbar(REDS, COD_TICKS, "Cod" + UNIT, 795, 120, 804, 840, 1042, 362, 1051, 1347, 887, 1210)),
         column(colorbar(BLUES, OTH_TICKS, "Other scatterers" + UNIT, 915, 112, 922, 957, 1042, 362, 1051, 1347, 1023, 1215)),
         margin=(-14, 0, 0, 0))

page = column(r1, r2, r3, r4, TEXT_LAYER, margin=(8, 0, 0, 8))
open("out.html", "w").write(file_html(page, INLINE))
